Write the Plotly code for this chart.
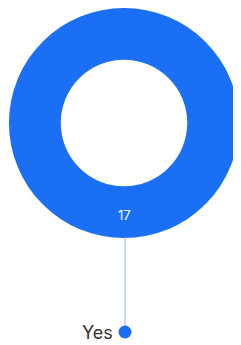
import plotly.graph_objects as go

labels = ["Yes"]
values = [17]
colors = ["#1a6ff4"]

# page is offset by the 8px body margin, so draw in a 233x337 figure
OFF = 8
W, H = 241 - OFF, 345 - OFF


def px(x):
    return (x - OFF) / W


def py(y):
    return 1 - (y - OFF) / H


fig = go.Figure()
fig.add_trace(go.Pie(
    labels=labels, values=values, hole=0.55, sort=False,
    marker=dict(colors=colors, line=dict(width=0)),
    textinfo="none", showlegend=False,
    domain=dict(x=[max(px(7), 0), px(240)], y=[py(238), min(py(5), 1)]),
))
# value label inside the ring
fig.add_annotation(x=px(124), y=py(215), xref="paper", yref="paper",
                   text=str(values[0]), showarrow=False,
                   font=dict(family="Inter, Roboto, sans-serif", size=13, color="white"))
# leader line
fig.add_shape(type="line", xref="paper", yref="paper",
              x0=px(125), x1=px(125), y0=py(237), y1=py(331),
              line=dict(color="#8fb4f0", width=1))
# dot
r = 6.5
fig.add_shape(type="circle", xref="paper", yref="paper",
              x0=px(125 - r), x1=px(125 + r), y0=py(332 + r), y1=py(332 - r),
              fillcolor=colors[0], line=dict(width=0))
fig.add_annotation(x=px(115), y=py(332), xref="paper", yref="paper",
                   text=labels[0], showarrow=False, xanchor="right", yanchor="middle",
                   font=dict(family="Inter, Roboto, sans-serif", size=18, color="#333333"))

fig.update_layout(width=W, height=H, margin=dict(l=0, r=0, t=0, b=0),
                  paper_bgcolor="white", plot_bgcolor="white")
fig.write_html("out.html")
